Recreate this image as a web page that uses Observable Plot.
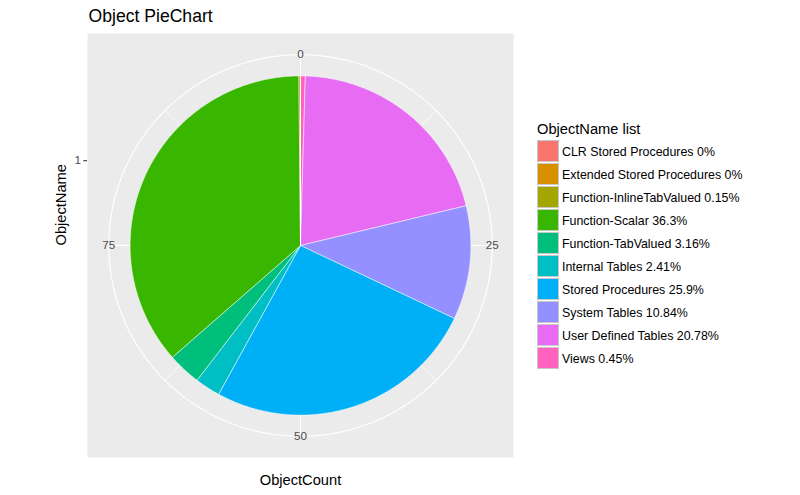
<!DOCTYPE html>
<html>
<head>
<meta charset="utf-8">
<script src="https://cdn.jsdelivr.net/npm/d3@7"></script>
<script src="https://cdn.jsdelivr.net/npm/@observablehq/plot@0.6"></script>
<style>
  body { margin: 0; background: #ffffff; font-family: "Liberation Sans", Arial, sans-serif; }
  #wrap { position: relative; width: 800px; height: 495px; overflow: hidden; }
  #wrap svg { position: absolute; left: 0; top: 0; }
  .lg-title { position: absolute; left: 537px; top: 119px; height: 20px; line-height: 20px; font-size: 14.67px; color: #000; white-space: nowrap; }
  .lg-key { position: absolute; left: 537px; width: 22px; height: 22px; box-sizing: border-box; border: 1px solid #c8c8c8; }
  .lg-text { position: absolute; left: 562px; height: 22px; line-height: 22px; font-size: 12.4px; color: #000; white-space: nowrap; }
</style>
</head>
<body>
<div id="wrap"></div>
<script>
// ---- data ----
const objectNames = [
  "CLR Stored Procedures",
  "Extended Stored Procedures",
  "Function-InlineTabValued",
  "Function-Scalar",
  "Function-TabValued",
  "Internal Tables",
  "Stored Procedures",
  "System Tables",
  "User Defined Tables",
  "Views"
];
const objectPercents = [0, 0, 0.15, 36.3, 3.16, 2.41, 25.9, 10.84, 20.78, 0.45];
const sliceColors = ["#F8766D", "#D89000", "#A3A500", "#39B600", "#00BF7D", "#00BFC4", "#00B0F6", "#9590FF", "#E76BF3", "#FF62BC"];
const thetaMajorTicks = [0, 25, 50, 75];
const thetaMinorTicks = [12.5, 37.5, 62.5, 87.5];
const radiusTicks = [{label: "1", r: 0.2}];
const chartTitle = "Object PieChart";
const xTitle = "ObjectCount";
const yTitle = "ObjectName";
const legendTitle = "ObjectName list";

// ---- polar geometry (ggplot coord_polar: pie radius 0.4, outer ring 0.45) ----
const rPie = 0.4, rOuter = 0.45;
const total = d3.sum(objectPercents);
const toXY = (t, r) => {
  const a = t / total * 2 * Math.PI;
  return [r * Math.sin(a), r * Math.cos(a)];
};

// stacking: last factor level sits at theta = 0, going clockwise
let cum = 0;
const slices = objectNames.map((n, i) => ({name: n, value: objectPercents[i]}))
  .reverse()
  .map(d => { const s = {...d, t0: cum, t1: cum + d.value}; cum += d.value; return s; });

const piePts = slices.flatMap(s => {
  const n = Math.max(2, Math.ceil((s.t1 - s.t0) / total * 720));
  const pts = [{name: s.name, x: 0, y: 0}];
  for (let k = 0; k <= n; k++) {
    const [x, y] = toXY(s.t0 + (s.t1 - s.t0) * k / n, rPie);
    pts.push({name: s.name, x, y});
  }
  pts.push({name: s.name, x: 0, y: 0});
  return pts;
});

const ringPts = d3.range(0, 721).map(k => {
  const [x, y] = toXY(k / 720 * total, rOuter);
  return {x, y};
});

const font = "Liberation Sans, Arial, sans-serif";

const plot = Plot.plot({
  width: 800,
  height: 495,
  marginLeft: 87,
  marginRight: 287,
  marginTop: 33,
  marginBottom: 38,
  x: {domain: [-0.5, 0.5], axis: null},
  y: {domain: [-0.5, 0.5], axis: null},
  color: {domain: objectNames, range: sliceColors},
  style: {fontFamily: font, background: "transparent", overflow: "visible"},
  marks: [
    Plot.frame({fill: "#EBEBEB", stroke: "none"}),
    Plot.link(thetaMinorTicks, {
      x1: 0, y1: 0,
      x2: t => toXY(t, rOuter)[0], y2: t => toXY(t, rOuter)[1],
      stroke: "white", strokeWidth: 0.8
    }),
    Plot.link(thetaMajorTicks, {
      x1: 0, y1: 0,
      x2: t => toXY(t, rOuter)[0], y2: t => toXY(t, rOuter)[1],
      stroke: "white", strokeWidth: 1.1
    }),
    Plot.line(ringPts, {x: "x", y: "y", stroke: "white", strokeWidth: 1.1}),
    Plot.line(piePts, {
      x: "x", y: "y", z: "name", fill: "name",
      stroke: "white", strokeWidth: 0.5, strokeLinejoin: "round", curve: "linear"
    }),
    Plot.text(thetaMajorTicks, {
      x: t => toXY(t, rOuter)[0], y: t => toXY(t, rOuter)[1],
      text: t => String(t), fill: "#4D4D4D", fontSize: 11.7, lineAnchor: "middle"
    }),
    Plot.text(radiusTicks, {
      x: -0.5, y: "r", text: "label", dx: -6.6, textAnchor: "end",
      fill: "#4D4D4D", fontSize: 11.7, lineAnchor: "middle"
    }),
    Plot.ruleY(radiusTicks, {y: "r", x1: -0.5 - 3.67 / 426, x2: -0.5, stroke: "#333333", strokeWidth: 1.1}),
    Plot.text([yTitle], {
      frameAnchor: "left", dx: -26.4, rotate: -90, text: d => d,
      fill: "#000", fontSize: 14.67, lineAnchor: "middle"
    }),
    Plot.text([xTitle], {
      frameAnchor: "bottom", dy: 22.8, text: d => d,
      fill: "#000", fontSize: 14.67, lineAnchor: "middle"
    }),
    Plot.text([chartTitle], {
      frameAnchor: "top-left", dy: -17.1, dx: 1, text: d => d, textAnchor: "start",
      fill: "#000", fontSize: 17.6, lineAnchor: "middle"
    })
  ]
});

const wrap = document.getElementById("wrap");
wrap.appendChild(plot);

// ---- legend ----
const lt = document.createElement("div");
lt.className = "lg-title";
lt.textContent = legendTitle;
wrap.appendChild(lt);
objectNames.forEach((n, i) => {
  const top = 140 + i * 23;
  const key = document.createElement("div");
  key.className = "lg-key";
  key.style.top = top + "px";
  key.style.background = sliceColors[i];
  wrap.appendChild(key);
  const tx = document.createElement("div");
  tx.className = "lg-text";
  tx.style.top = (top + 1) + "px";
  tx.textContent = n + " " + objectPercents[i] + "%";
  wrap.appendChild(tx);
});
</script>
</body>
</html>
